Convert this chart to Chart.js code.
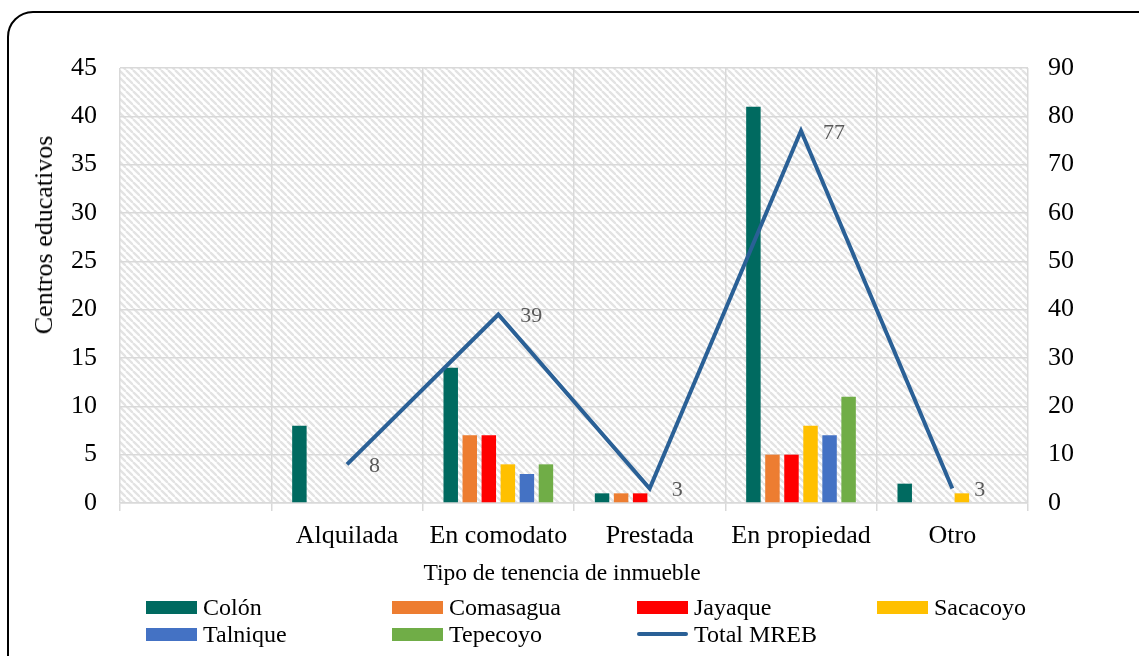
<!DOCTYPE html>
<html>
<head>
<meta charset="utf-8">
<script src="https://cdn.jsdelivr.net/npm/chart.js@4.4.1/dist/chart.umd.min.js"></script>
<style>
  html, body { margin: 0; padding: 0; background: #fff; overflow: hidden; }
  #wrap { position: relative; width: 1139px; height: 656px; font-family: 'Liberation Serif', 'Times New Roman', serif; color: #000; }
  #frame { position: absolute; left: 7px; top: 11px; width: 1200px; height: 720px; border: 2px solid #000; border-radius: 26px; box-sizing: border-box; }
  #c { position: absolute; left: 0; top: 0; }
  .ytitle { position: absolute; left: 44px; top: 235px; transform: translate(-50%, -50%) rotate(-90deg); font-size: 26px; white-space: nowrap; }
  .xtitle { position: absolute; left: 562px; top: 572px; transform: translate(-50%, -50%); font-size: 23.5px; white-space: nowrap; }
  .leg { position: absolute; display: flex; align-items: center; font-size: 24px; white-space: nowrap; height: 26px; }
  .sw { width: 51px; height: 13px; margin-right: 6px; }
  .ln { width: 51px; height: 4px; margin-right: 6px; border-radius: 2px; }
</style>
</head>
<body>
<div id="wrap">
  <div id="frame"></div>
  <canvas id="c" width="1139" height="656"></canvas>
  <div class="ytitle">Centros educativos</div>
  <div class="xtitle">Tipo de tenencia de inmueble</div>
  <div id="legend"></div>
</div>
<script>
// ---- data ----
const categories = ["", "Alquilada", "En comodato", "Prestada", "En propiedad", "Otro"];
const colon     = [null, 8, 14, 1, 41, 2];
const comasagua = [null, null, 7, 1, 5, null];
const jayaque   = [null, null, 7, 1, 5, null];
const sacacoyo  = [null, null, 4, null, 8, 1];
const talnique  = [null, null, 3, null, 7, null];
const tepecoyo  = [null, null, 4, null, 11, null];
const totalMREB = [null, 8, 39, 3, 77, 3];
const seriesNames = ["Colón", "Comasagua", "Jayaque", "Sacacoyo", "Talnique", "Tepecoyo", "Total MREB"];
const leftMax = 45, leftStep = 5;
const rightMax = 90, rightStep = 10;

const colors = ["#006A60", "#ED7D31", "#FF0000", "#FFC000", "#4472C4", "#70AD47", "#2A6096"];
const barSeries = [colon, comasagua, jayaque, sacacoyo, talnique, tepecoyo];

Chart.defaults.font.family = "'Liberation Serif', 'Times New Roman', serif";
Chart.defaults.color = "#000";

// hatch pattern
function makePattern() {
  const p = 7;
  const c = document.createElement('canvas');
  c.width = p; c.height = p;
  const g = c.getContext('2d');
  g.fillStyle = '#fff';
  g.fillRect(0, 0, p, p);
  g.strokeStyle = '#E3E3E3';
  g.lineWidth = 2.3;
  for (let x0 = -p; x0 <= p; x0 += p) {
    g.beginPath();
    g.moveTo(x0, 0);
    g.lineTo(x0 + p, p);
    g.stroke();
  }
  return c;
}
const hatchPlugin = {
  id: 'hatch',
  beforeDraw(chart) {
    const { ctx, chartArea: a } = chart;
    ctx.save();
    ctx.fillStyle = ctx.createPattern(makePattern(), 'repeat');
    ctx.fillRect(a.left, a.top, a.right - a.left, a.bottom - a.top);
    ctx.restore();
  }
};
const labelPlugin = {
  id: 'lineLabels',
  afterDatasetsDraw(chart) {
    const { ctx } = chart;
    const idx = chart.data.datasets.length - 1;
    const meta = chart.getDatasetMeta(idx);
    const data = chart.data.datasets[idx].data;
    ctx.save();
    ctx.font = "22px 'Liberation Serif', 'Times New Roman', serif";
    ctx.fillStyle = '#595959';
    ctx.textAlign = 'left';
    ctx.textBaseline = 'middle';
    meta.data.forEach((pt, i) => {
      if (data[i] === null || data[i] === undefined) return;
      ctx.fillText(String(data[i]), pt.x + 22, pt.y + 2);
    });
    ctx.restore();
  }
};

const datasets = barSeries.map((d, i) => ({
  type: 'bar',
  label: seriesNames[i],
  data: d,
  backgroundColor: colors[i],
  borderWidth: 0,
  categoryPercentage: 0.755,
  barPercentage: 0.76,
  yAxisID: 'y',
  order: 1
}));
datasets.push({
  type: 'line',
  label: seriesNames[6],
  data: totalMREB,
  borderColor: colors[6],
  backgroundColor: colors[6],
  borderWidth: 4,
  pointRadius: 0,
  tension: 0,
  yAxisID: 'y2',
  order: 0
});

const gridColor = '#D9D9D9';
new Chart(document.getElementById('c'), {
  data: { labels: categories, datasets },
  options: {
    responsive: false,
    animation: false,
    layout: { padding: { left: 0, right: 0, top: 68, bottom: 93 } },
    plugins: { legend: { display: false }, tooltip: { enabled: false } },
    scales: {
      x: {
        offset: true,
        grid: { color: gridColor, lineWidth: 1.5, offset: true, tickLength: 8, drawTicks: true },
        border: { color: gridColor, width: 1.5 },
        ticks: { font: { size: 26 }, padding: 10, maxRotation: 0, autoSkip: false },
        afterFit(s) { s.height = 60; }
      },
      y: {
        position: 'left',
        min: 0, max: leftMax,
        ticks: { stepSize: leftStep, font: { size: 26 }, padding: 23 },
        grid: { color: gridColor, lineWidth: 1.5, drawTicks: false },
        border: { display: false },
        afterFit(s) { s.width = 120; }
      },
      y2: {
        position: 'right',
        min: 0, max: rightMax,
        ticks: { stepSize: rightStep, font: { size: 26 }, padding: 20 },
        grid: { display: false, drawTicks: false },
        border: { display: false },
        afterFit(s) { s.width = 111; }
      }
    }
  },
  plugins: [hatchPlugin, labelPlugin]
});

// HTML legend
const legendPos = [
  [146, 594], [392, 594], [637, 594], [877, 594],
  [146, 621], [392, 621], [637, 621]
];
const legendEl = document.getElementById('legend');
seriesNames.forEach((name, i) => {
  const item = document.createElement('div');
  item.className = 'leg';
  item.style.left = legendPos[i][0] + 'px';
  item.style.top = legendPos[i][1] + 'px';
  const sw = document.createElement('div');
  sw.className = i === 6 ? 'ln' : 'sw';
  sw.style.background = colors[i];
  const tx = document.createElement('span');
  tx.textContent = name;
  item.appendChild(sw);
  item.appendChild(tx);
  legendEl.appendChild(item);
});
</script>
</body>
</html>
